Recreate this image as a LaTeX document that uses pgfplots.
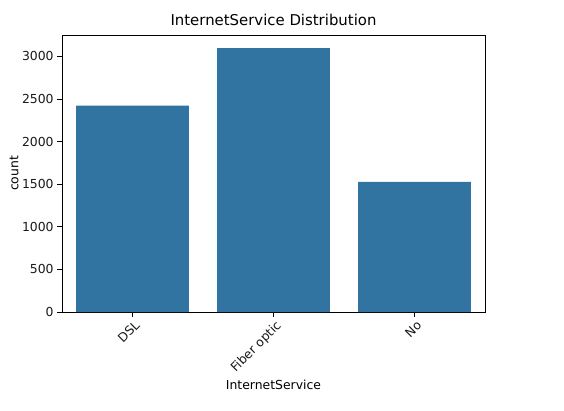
\documentclass[border=0pt]{standalone}
\usepackage{pgfplots}
\pgfplotsset{compat=1.18}
\usepackage{fontspec}
\setmainfont{DejaVu Sans}
\definecolor{sbblue}{HTML}{3274A1}
\begin{document}
\begin{tikzpicture}[x=1pt,y=1pt]
\path (0,0) rectangle (564,410);
\begin{axis}[
    at={(62pt,98pt)}, anchor=south west,
    width=423pt, height=277pt, scale only axis,
    ybar, bar width=0.8, bar shift=0pt,
    xmin=-0.5, xmax=2.5,
    ymin=0, ymax=3251,
    xtick=data,
    xticklabels={DSL, Fiber optic, No},
    ytick={0,500,1000,1500,2000,2500,3000},
    x tick label style={rotate=45, anchor=north east, inner sep=1pt, yshift=-2pt},
    tick align=outside,
    major tick length=4.9pt,
    tick style={black, line width=0.8pt},
    xtick pos=bottom, ytick pos=left,
    axis line style={line width=0.8pt},
    scaled y ticks=false,
    /pgf/number format/assume math mode=true,
    /pgf/number format/1000 sep={},
    tick label style={font=\fontsize{12.4}{14}\selectfont, color=black!90},
    title={InternetService Distribution},
    title style={font=\fontsize{14.9}{17}\selectfont, at={(axis description cs:0.5,1.033)}, anchor=center},
    xlabel={InternetService},
    xlabel style={font=\fontsize{12.4}{14}\selectfont, at={(axis description cs:0.5,-0.2635)}, anchor=center},
    ylabel={count},
    ylabel style={font=\fontsize{12.4}{14}\selectfont, at={(axis description cs:-0.1135,0.5)}, anchor=center},
]
\addplot[fill=sbblue, draw=none] coordinates {(0,2421) (1,3096) (2,1526)};
\end{axis}
\end{tikzpicture}
\end{document}
